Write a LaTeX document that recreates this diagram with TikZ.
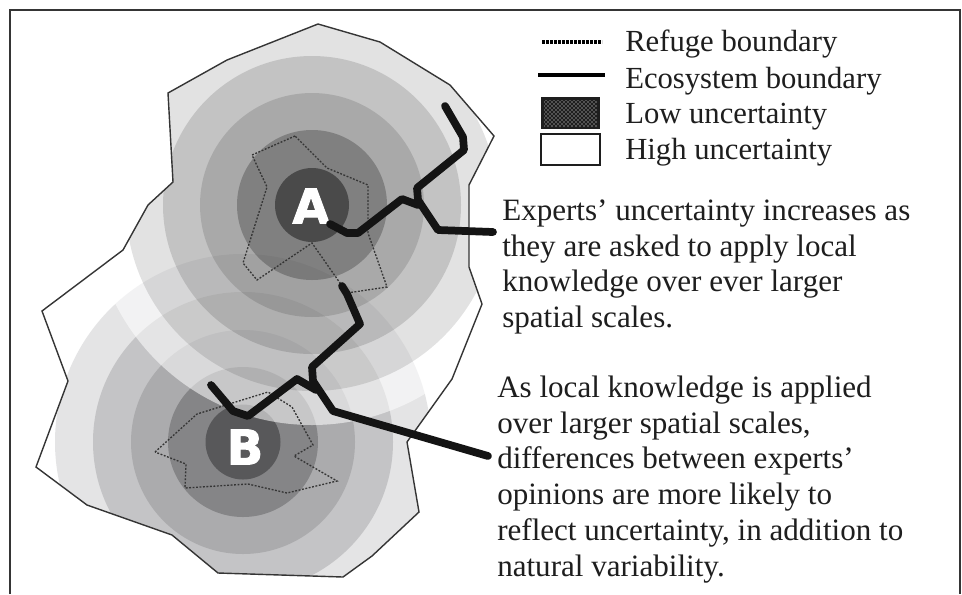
\documentclass[tikz,border=0pt]{standalone}
\usepackage{fontspec}
\setmainfont{Liberation Serif}
\newfontfamily\lettersf[BoldFeatures={FakeBold=2}]{DejaVu Sans}
\usetikzlibrary{patterns}
\definecolor{ringa}{HTML}{E4E4E5}
\definecolor{ringb}{HTML}{C4C4C6}
\definecolor{ringc}{HTML}{ABABAD}
\definecolor{ringd}{HTML}{858587}
\definecolor{ringe}{HTML}{58585A}
\definecolor{inkline}{HTML}{1E1E1E}
\tikzset{
  x=0.75pt,y=-0.75pt,
  framestyle/.style={draw=inkline!90,line width=1.3pt},
  polyline/.style={draw=inkline!90,line width=1.05pt,line join=miter},
  refuge/.style={draw=inkline!90,line width=1pt,dash pattern=on 1.4pt off 1.2pt},
  ecoline/.style={draw=black!92,line width=5.8pt,line join=round,line cap=round},
  legendtext/.style={anchor=base west,inner sep=0pt,font=\fontsize{23}{27}\selectfont,text=inkline},
  blocktext/.style={anchor=north west,inner sep=0pt,align=left,font=\fontsize{23.3}{26.8}\selectfont,text=inkline},
  siteletter/.style={inner sep=0pt,text=white,font=\lettersf\bfseries\fontsize{36}{36}\selectfont},
}
\newcommand{\ecopoly}{(318,24) -- (380,42) -- (450,85) -- (494,136) -- (469,185) -- (469,267) -- (482,304) -- (452,379) -- (407,442) -- (419,512) -- (372,556) -- (343,577) -- (218,573) -- (172,535) -- (87,505) -- (36,467) -- (68,381) -- (42,311) -- (123,250) -- (148,205) -- (173,182) -- (168,93) -- (227,60) -- cycle}
\begin{document}
\begin{tikzpicture}
\useasboundingbox (0,0) rectangle (962,594);
\fill[white] (0,0) rectangle (962,594);
\coordinate (ca) at (312,205);
\coordinate (cb) at (243,442);
\begin{scope}
  \clip \ecopoly;
  % site B rings, opaque
  \foreach \r/\c in {188/ringa,150/ringb,112/ringc,75/ringd,37.5/ringe}
    \fill[\c] (cb) circle [radius=\r*0.75pt];
  % site A: pale veil, then darkening rings
  \fill[white,fill opacity=0.55] (ca) circle [radius=220*0.75pt];
  \foreach \r/\o in {186/0.114,149/0.133,112/0.128,75/0.24,37/0.42}
    \fill[black,fill opacity=\o] (ca) circle [radius=\r*0.75pt];
\end{scope}
\draw[polyline] \ecopoly;
% refuge boundaries
\draw[refuge] (295,136) -- (252,155) -- (267,187) -- (243,263) -- (257,280) -- (312,243) -- (347,293) -- (387,287) -- (368,233) -- (368,185) -- (327,168) -- cycle;
\draw[refuge] (155,452) -- (197,414) -- (268,392) -- (292,407) -- (313,445) -- (294,456) -- (337,481) -- (287,493) -- (248,484) -- (185,488) -- (186,464) -- cycle;
% letters
\node[siteletter] (siteA) at (311,206) {A};
\node[siteletter] (siteB) at (245,447) {B};
% ecosystem boundaries
\draw[ecoline] (445,106) -- (463,137) -- (464,150) -- (417,188) -- (418,200) -- (438,230) -- (493,232);
\draw[ecoline] (330,224) -- (347,233) -- (358,233) -- (402,199) -- (418,205);
\draw[ecoline] (342,286) -- (347,294) -- (360,324) -- (312,367) -- (313,381) -- (333,411) -- (488,456);
\draw[ecoline] (211,385) -- (233,411) -- (248,416) -- (297,379) -- (316,390);
% legend
\draw[draw=black,line width=3pt,dash pattern=on 2pt off 1pt] (542,42) -- (602,42);
\draw[draw=black,line width=2.4pt] (538,75) -- (605,75);
\fill[inkline] (541,97) rectangle (600,129);
\fill[pattern=crosshatch dots,pattern color=white] (544,100) rectangle (597,126);
\draw[draw=inkline,line width=1pt] (541,134) rectangle (600,165);
\node[legendtext] (lg1) at (625,51) {Refuge boundary};
\node[legendtext] (lg2) at (625,88) {Ecosystem boundary};
\node[legendtext] (lg3) at (625,123) {Low uncertainty};
\node[legendtext] (lg4) at (625,159) {High uncertainty};
% explanations
\node[blocktext] (noteA) at (502,199.5) {Experts’ uncertainty increases as\\they are asked to apply local\\knowledge over ever larger\\spatial scales.};
\node[blocktext] (noteB) at (497,375.5) {As local knowledge is applied\\over larger spatial scales,\\differences between experts’\\opinions are more likely to\\reflect uncertainty, in addition to\\natural variability.};
% frame, open at the bottom
\draw[framestyle] (10,594) -- (10,10) -- (960,10) -- (960,594);
\end{tikzpicture}
\end{document}
